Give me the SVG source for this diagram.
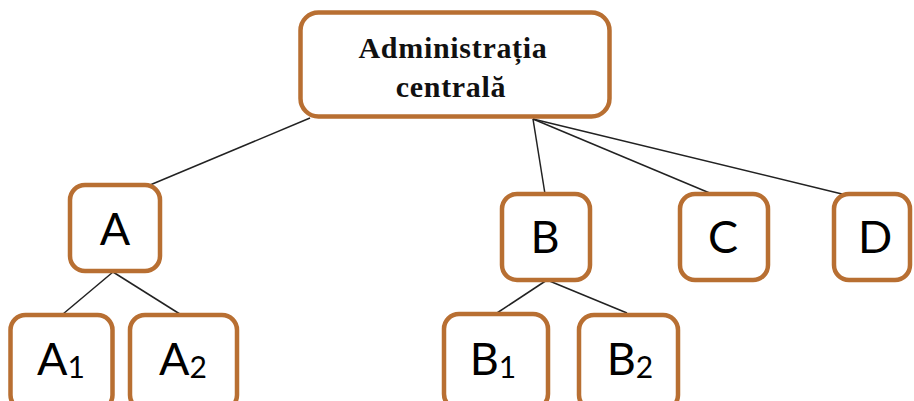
<svg xmlns="http://www.w3.org/2000/svg" width="914" height="401" viewBox="0 0 914 401">
<style>
.box{fill:#fff;stroke:#B86F32;stroke-width:4.5}
.lbl{font-family:Lato,"Open Sans",sans-serif;font-size:45px;fill:#000;text-anchor:middle}
.sub{font-size:30px}
.title{font-family:"Liberation Serif","Times New Roman",serif;font-weight:bold;font-size:30px;letter-spacing:0.7px;fill:#111;text-anchor:middle}
.conn line{stroke:#222;stroke-width:1.5}
</style>
<rect width="914" height="401" fill="#fff"/>
<g class="conn">
<line x1="310" y1="118" x2="150" y2="185"/>
<line x1="533" y1="119" x2="545" y2="194"/>
<line x1="533" y1="119" x2="712" y2="194"/>
<line x1="533" y1="119" x2="842" y2="194"/>
<line x1="113" y1="272" x2="63" y2="314"/>
<line x1="113" y1="272" x2="183" y2="316"/>
<line x1="547" y1="280" x2="497" y2="313"/>
<line x1="547" y1="280" x2="627" y2="313"/>
</g>
<g id="admin">
<rect class="box" x="300.5" y="12.5" width="309" height="104" rx="18"/>
<text class="title" x="453" y="58">Administrația</text>
<text class="title" x="451" y="97">centrală</text>
</g>
<g id="A">
<rect class="box" x="70" y="185" width="90" height="86" rx="15"/>
<text class="lbl" x="115" y="245">A</text>
</g>
<g id="A1">
<rect class="box" x="10.5" y="315" width="102" height="95" rx="15"/>
<text class="lbl" x="61" y="375">A<tspan class="sub" dy="3">1</tspan></text>
</g>
<g id="A2">
<rect class="box" x="130" y="315" width="107" height="95" rx="15"/>
<text class="lbl" x="183" y="375">A<tspan class="sub" dy="3">2</tspan></text>
</g>
<g id="B">
<rect class="box" x="502" y="194" width="88" height="86" rx="15"/>
<text class="lbl" x="545" y="253">B</text>
</g>
<g id="C">
<rect class="box" x="680" y="194" width="88" height="86" rx="15"/>
<text class="lbl" x="723" y="253">C</text>
</g>
<g id="D">
<rect class="box" x="834" y="194" width="76" height="86" rx="15"/>
<text class="lbl" x="875" y="253">D</text>
</g>
<g id="B1">
<rect class="box" x="444" y="314" width="104" height="95" rx="15"/>
<text class="lbl" x="493" y="375">B<tspan class="sub" dy="3">1</tspan></text>
</g>
<g id="B2">
<rect class="box" x="579" y="315" width="99" height="95" rx="15"/>
<text class="lbl" x="630" y="375">B<tspan class="sub" dy="3">2</tspan></text>
</g>
</svg>
